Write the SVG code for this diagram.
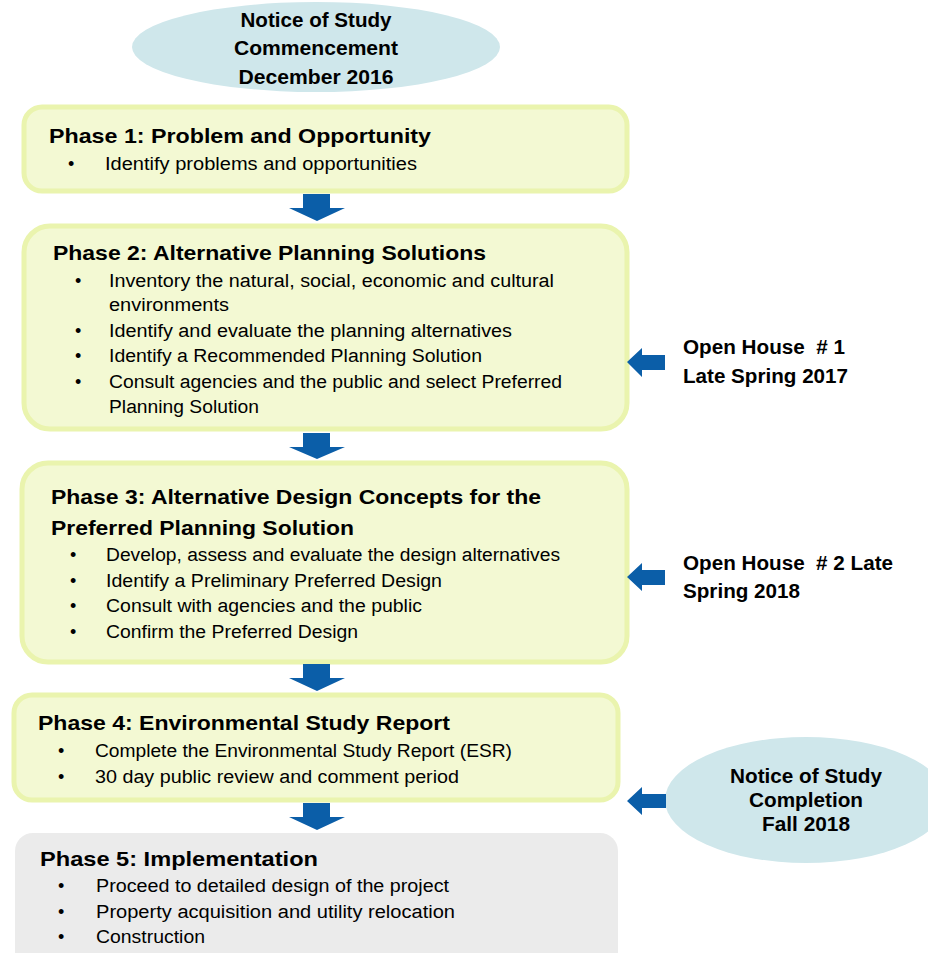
<svg xmlns="http://www.w3.org/2000/svg" width="928" height="953" viewBox="0 0 928 953">
<defs>
<style>
.box{fill:#f3f9d3;stroke:#eaf4ae;stroke-width:5}
.gray{fill:#ebebeb;stroke:none}
.ell{fill:#cfe7eb;stroke:none}
.arr{fill:#0b5ea8}
text{font-family:"Liberation Sans",Arial,sans-serif;fill:#000}
.t{font-size:21px;font-weight:bold}
.b{font-size:18px}
.e{font-size:20px;font-weight:bold}
.c{text-anchor:middle}
</style>
</defs>
<rect width="928" height="953" fill="#ffffff"/>

<g id="start">
<ellipse class="ell" cx="316" cy="47" rx="184" ry="45"/>
<text class="e c" x="316" y="27" textLength="151" lengthAdjust="spacingAndGlyphs">Notice of Study</text>
<text class="e c" x="316" y="55" textLength="164" lengthAdjust="spacingAndGlyphs">Commencement</text>
<text class="e c" x="316" y="84" textLength="155" lengthAdjust="spacingAndGlyphs">December 2016</text>
</g>

<g id="phase1">
<rect class="box" x="24" y="107" width="603" height="84" rx="18"/>
<text class="t" x="49" y="143" textLength="382" lengthAdjust="spacingAndGlyphs">Phase 1: Problem and Opportunity</text>
<text class="b" x="68" y="170">•</text>
<text class="b" x="105" y="170" textLength="312" lengthAdjust="spacingAndGlyphs">Identify problems and opportunities</text>
</g>

<g id="phase2">
<rect class="box" x="24" y="226" width="603" height="203" rx="26"/>
<text class="t" x="53" y="260" textLength="433" lengthAdjust="spacingAndGlyphs">Phase 2: Alternative Planning Solutions</text>
<text class="b" x="75" y="287">•</text>
<text class="b" x="109" y="287" textLength="445" lengthAdjust="spacingAndGlyphs">Inventory the natural, social, economic and cultural</text>
<text class="b" x="109" y="311" textLength="120" lengthAdjust="spacingAndGlyphs">environments</text>
<text class="b" x="75" y="337">•</text>
<text class="b" x="109" y="337" textLength="403" lengthAdjust="spacingAndGlyphs">Identify and evaluate the planning alternatives</text>
<text class="b" x="75" y="362">•</text>
<text class="b" x="109" y="362" textLength="373" lengthAdjust="spacingAndGlyphs">Identify a Recommended Planning Solution</text>
<text class="b" x="75" y="388">•</text>
<text class="b" x="109" y="388" textLength="453" lengthAdjust="spacingAndGlyphs">Consult agencies and the public and select Preferred</text>
<text class="b" x="109" y="413" textLength="150" lengthAdjust="spacingAndGlyphs">Planning Solution</text>
</g>

<g id="phase3">
<rect class="box" x="22" y="463" width="605" height="199" rx="26"/>
<text class="t" x="51" y="504" textLength="490" lengthAdjust="spacingAndGlyphs">Phase 3: Alternative Design Concepts for the</text>
<text class="t" x="51" y="535" textLength="303" lengthAdjust="spacingAndGlyphs">Preferred Planning Solution</text>
<text class="b" x="70" y="561">•</text>
<text class="b" x="106" y="561" textLength="454" lengthAdjust="spacingAndGlyphs">Develop, assess and evaluate the design alternatives</text>
<text class="b" x="70" y="587">•</text>
<text class="b" x="106" y="587" textLength="336" lengthAdjust="spacingAndGlyphs">Identify a Preliminary Preferred Design</text>
<text class="b" x="70" y="612">•</text>
<text class="b" x="106" y="612" textLength="316" lengthAdjust="spacingAndGlyphs">Consult with agencies and the public</text>
<text class="b" x="70" y="638">•</text>
<text class="b" x="106" y="638" textLength="252" lengthAdjust="spacingAndGlyphs">Confirm the Preferred Design</text>
</g>

<g id="phase4">
<rect class="box" x="14" y="695" width="604" height="105" rx="18"/>
<text class="t" x="38" y="730" textLength="412" lengthAdjust="spacingAndGlyphs">Phase 4: Environmental Study Report</text>
<text class="b" x="58" y="757">•</text>
<text class="b" x="95" y="757" textLength="417" lengthAdjust="spacingAndGlyphs">Complete the Environmental Study Report (ESR)</text>
<text class="b" x="58" y="783">•</text>
<text class="b" x="95" y="783" textLength="364" lengthAdjust="spacingAndGlyphs">30 day public review and comment period</text>
</g>

<g id="phase5">
<rect class="gray" x="15" y="833" width="603" height="150" rx="18"/>
<text class="t" x="40" y="866" textLength="278" lengthAdjust="spacingAndGlyphs">Phase 5: Implementation</text>
<text class="b" x="58" y="892">•</text>
<text class="b" x="96" y="892" textLength="353" lengthAdjust="spacingAndGlyphs">Proceed to detailed design of the project</text>
<text class="b" x="58" y="918">•</text>
<text class="b" x="96" y="918" textLength="359" lengthAdjust="spacingAndGlyphs">Property acquisition and utility relocation</text>
<text class="b" x="58" y="943">•</text>
<text class="b" x="96" y="943" textLength="109" lengthAdjust="spacingAndGlyphs">Construction</text>
</g>

<g id="openhouse1">
<text class="e" x="683" y="354" textLength="162" lengthAdjust="spacingAndGlyphs">Open House&#160; # 1</text>
<text class="e" x="683" y="383" textLength="165" lengthAdjust="spacingAndGlyphs">Late Spring 2017</text>
</g>

<g id="openhouse2">
<text class="e" x="683" y="570" textLength="210" lengthAdjust="spacingAndGlyphs">Open House&#160; # 2 Late</text>
<text class="e" x="683" y="598" textLength="117" lengthAdjust="spacingAndGlyphs">Spring 2018</text>
</g>

<g id="completion">
<ellipse class="ell" cx="806" cy="800" rx="141" ry="63"/>
<text class="e c" x="806" y="783" textLength="152" lengthAdjust="spacingAndGlyphs">Notice of Study</text>
<text class="e c" x="806" y="807" textLength="114" lengthAdjust="spacingAndGlyphs">Completion</text>
<text class="e c" x="806" y="831" textLength="88" lengthAdjust="spacingAndGlyphs">Fall 2018</text>
</g>

<g id="connectors">
<polygon class="arr" points="303,194 330,194 330,208 345,208 317,221 289,208 303,208"/>
<polygon class="arr" points="303,433 330,433 330,447 345,447 317,459 289,447 303,447"/>
<polygon class="arr" points="303,664 330,664 330,678 345,678 317,691 289,678 303,678"/>
<polygon class="arr" points="303,803 330,803 330,817 345,817 317,830 289,817 303,817"/>
<polygon class="arr" points="627,362 642,348 642,355 665,355 665,370 642,370 642,377"/>
<polygon class="arr" points="627,577 642,563 642,570 665,570 665,585 642,585 642,591"/>
<polygon class="arr" points="627,801 642,787 642,794 666,794 666,808 642,808 642,815"/>
</g>
</svg>
